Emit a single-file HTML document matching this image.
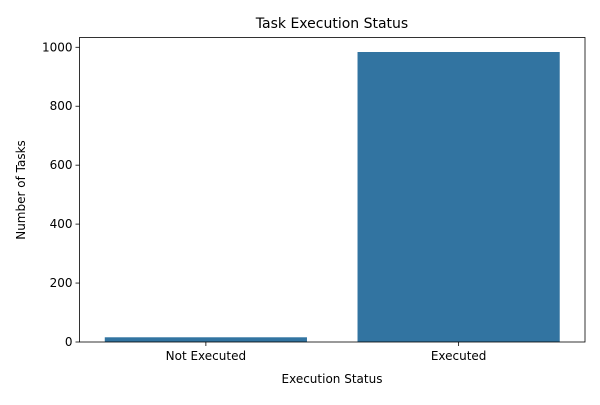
<!DOCTYPE html>
<html><head><meta charset="utf-8"><style>
body{margin:0;background:#fff;font-family:"Liberation Sans","DejaVu Sans",sans-serif}
</style></head><body>
<svg width="600" height="400" font-family="DejaVu Sans, Liberation Sans, sans-serif">
<text x="332" y="28" text-anchor="middle" font-size="14">Task Execution Status</text>
<g id="plot"></g>
<text x="332" y="383" text-anchor="middle" font-size="12">Execution Status</text>
<text transform="translate(25,190) rotate(-90)" text-anchor="middle" font-size="12">Number of Tasks</text>
</svg>
<script>
const categories = ["Not Executed", "Executed"];
const values = [16, 984];
const yTicks = [0, 200, 400, 600, 800, 1000];

const L = 79.5, R = 585, T = 37.5, B = 342;
const ymax = Math.max(...values) * 1.05;
const y = v => B - (v / ymax) * (B - T);
const step = (R - L) / categories.length;
const xc = i => L + step * (i + 0.5);
const ns = "http://www.w3.org/2000/svg";
const g = document.getElementById("plot");
function mk(tag, attrs) { const e = document.createElementNS(ns, tag); for (const k in attrs) e.setAttribute(k, attrs[k]); g.appendChild(e); return e; }

values.forEach((v, i) => {
  const w = step * 0.8;
  const r = mk("rect", { x: xc(i) - w / 2, y: y(v), width: w, height: B - y(v), fill: "#3274a1" });
  
  
});
categories.forEach((c, i) => {
  const t = mk("line", { x1: xc(i), x2: xc(i), y1: B, y2: B + 4, stroke: "#000", "stroke-width": 0.8 });
  
  
  const l = mk("text", { x: xc(i), y: B + 18, "text-anchor": "middle", "font-size": 12 });
  l.textContent = c;
  
  
});
yTicks.forEach(v => {
  const t = mk("line", { x1: L - 4, x2: L, y1: y(v), y2: y(v), stroke: "#000", "stroke-width": 0.8 });
  
  
  const l = mk("text", { x: L - 7, y: y(v) + 4, "text-anchor": "end", "font-size": 12 });
  l.textContent = v;
  
  
});
const frame = mk("rect", { x: L, y: T, width: R - L, height: B - T, fill: "none", stroke: "#000", "stroke-width": 0.8 });


</script>
</body></html>
